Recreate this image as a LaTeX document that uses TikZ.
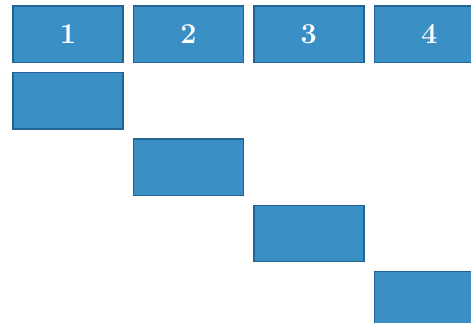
\documentclass[tikz,border=0pt]{standalone}
\usepackage{tikz}
\usetikzlibrary{positioning}
\definecolor{boxblue}{RGB}{58,143,197}
\definecolor{boxedge}{RGB}{36,100,148}

\begin{document}
\begin{tikzpicture}[x=0.5pt,y=0.5pt,
    blk/.style={draw=boxedge,fill=boxblue,line width=0.7pt,minimum width=55pt,minimum height=28.25pt,inner sep=0pt,font=\bfseries\Large,text=white},
    node distance=4.25pt and 4.5pt]
        \useasboundingbox (0,0) rectangle (471,322);
        \clip (0,0) rectangle (471,322);
        % top row
        \node[blk] (b1) at (68,287.75) {1};
        \node[blk,right=of b1] (b2) {2};
        \node[blk,right=of b2] (b3) {3};
        \node[blk,right=of b3] (b4) {4};
        % staircase
        \node[blk,below=of b1] (r1) {};
        \node[blk,below right=of r1] (r2) {};
        \node[blk,below right=of r2] (r3) {};
        \node[blk,below right=of r3] (r4) {};
    \end{tikzpicture}
\end{document}
